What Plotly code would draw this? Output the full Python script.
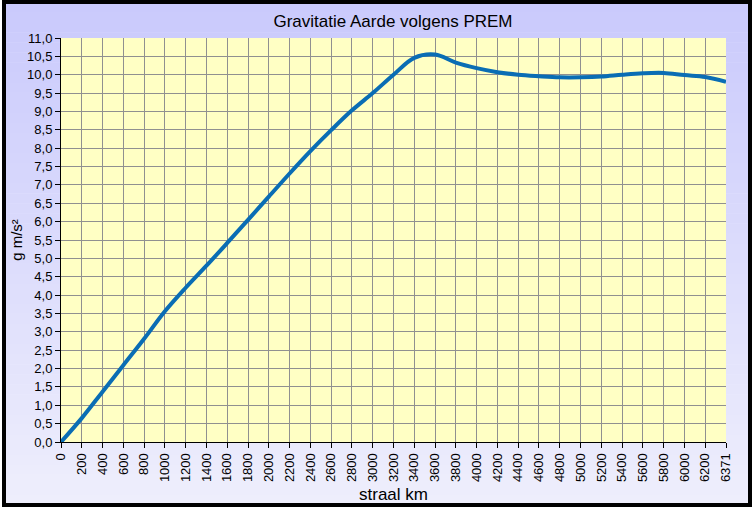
import plotly.graph_objects as go

radius_km = ["0", "200", "400", "600", "800", "1000", "1200", "1400", "1600", "1800",
             "2000", "2200", "2400", "2600", "2800", "3000", "3200", "3400", "3600",
             "3800", "4000", "4200", "4400", "4600", "4800", "5000", "5200", "5400",
             "5600", "5800", "6000", "6200", "6371"]
gravity = [0.0, 0.65, 1.37, 2.09, 2.81, 3.56, 4.2, 4.8, 5.42, 6.05,
           6.68, 7.31, 7.92, 8.49, 9.03, 9.5, 10.0, 10.46, 10.55,
           10.33, 10.18, 10.07, 10.0, 9.96, 9.93, 9.93, 9.95, 10.0,
           10.04, 10.05, 9.99, 9.94, 9.81]

W, H = 754, 516
L, R, T, B = 61, 726, 38, 442

def px(x):
    return (x - L) / (R - L)

def py(y):
    return (B - y) / (B - T)

fig = go.Figure()
fig.add_trace(go.Scatter(x=radius_km, y=gravity, mode="lines",
                         line=dict(color="#0a6db4", width=4, shape="spline", smoothing=1.0),
                         hoverinfo="x+y", showlegend=False))

shapes = []
# gradient background (lavender)
top = (202, 202, 252)
bot = (238, 238, 252)
n = 50
y0p, y1p = 2, 505
for i in range(n):
    ya = y0p + (y1p - y0p) * i / n
    yb = y0p + (y1p - y0p) * (i + 1) / n + 0.5
    f = i / (n - 1)
    c = tuple(int(round(top[k] + (bot[k] - top[k]) * f)) for k in range(3))
    shapes.append(dict(type="rect", xref="paper", yref="paper",
                       x0=px(4), x1=px(750), y0=py(ya), y1=py(yb),
                       fillcolor="rgb(%d,%d,%d)" % c, line=dict(width=0), layer="below"))
# plot area
shapes.append(dict(type="rect", xref="paper", yref="paper", x0=0, x1=1, y0=0, y1=1,
                   fillcolor="#ffffc4", line=dict(width=0), layer="below"))
# outer border
shapes.append(dict(type="rect", xref="paper", yref="paper",
                   x0=px(4), x1=px(750), y0=py(2), y1=py(505),
                   fillcolor="rgba(0,0,0,0)", line=dict(color="black", width=4), layer="above"))

font_family = "Liberation Sans, Arial, sans-serif"

fig.update_layout(
    width=W, height=H, autosize=False,
    margin=dict(l=L, r=W - R, t=T, b=H - B, pad=0),
    paper_bgcolor="white", plot_bgcolor="rgba(0,0,0,0)",
    separators=",.",
    font=dict(family=font_family, size=13, color="black"),
    title=dict(text="Gravitatie Aarde volgens PREM", x=(393 / W), xanchor="center",
               y=1 - 21 / H, yanchor="middle", font=dict(size=17, color="black")),
    shapes=shapes,
    xaxis=dict(type="category", categoryorder="array", categoryarray=radius_km,
               range=[0, len(radius_km) - 1], showgrid=True, gridcolor="#909090", gridwidth=1,
               showline=True, linecolor="black", linewidth=1, ticks="outside", ticklen=5,
               tickcolor="black", tickangle=-90, tickfont=dict(size=13),
               title=dict(text="straal km", font=dict(size=17), standoff=6),
               zeroline=False, fixedrange=True),
    yaxis=dict(range=[0, 11], dtick=0.5, tick0=0, tickformat=".1f", showgrid=True,
               gridcolor="#909090", gridwidth=1, showline=True, linecolor="black", linewidth=1,
               ticks="outside", ticklen=5, tickcolor="black", tickfont=dict(size=13),
               title=dict(text="g m/s²", font=dict(size=15), standoff=0),
               zeroline=False, fixedrange=True),
)

fig.write_html("out.html", config={"displayModeBar": False},
               post_script="document.body.style.margin='0';document.body.style.overflow='hidden';")
